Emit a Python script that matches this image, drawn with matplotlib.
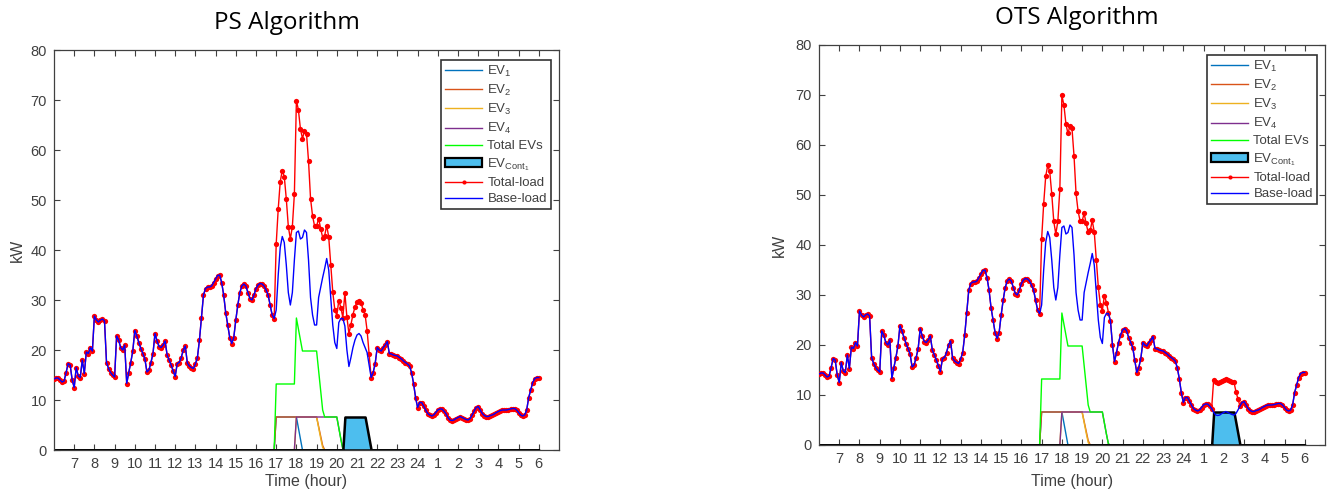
import numpy as np
import matplotlib
matplotlib.use('Agg')
import matplotlib.pyplot as plt
from matplotlib.patches import Patch
from matplotlib.lines import Line2D

plt.rcParams['font.family'] = ['Liberation Sans', 'DejaVu Sans']
plt.rcParams['mathtext.default'] = 'regular'

# time grid : 6h -> 30h (6h next day), one sample every 0.1 h
hours = np.round(np.arange(6.0, 30.05, 0.1), 1)

# base load (kW), one row per hour
base_kw = [
    14.2, 14.4, 14.4, 14.0, 13.6, 13.8, 15.5, 17.3, 17.0, 14.0,   # 6
    12.5, 16.5, 14.8, 14.5, 18.0, 15.3, 19.6, 19.3, 20.5, 19.8,   # 7
    26.8, 26.0, 25.6, 26.0, 26.2, 25.8, 17.5, 16.3, 15.5, 15.0,   # 8
    14.6, 22.8, 22.0, 20.5, 20.0, 21.0, 13.3, 15.5, 17.5, 19.8,   # 9
    23.9, 22.8, 21.5, 20.3, 19.3, 18.2, 15.6, 16.0, 17.5, 19.3,   # 10
    23.3, 21.8, 20.7, 20.5, 21.0, 21.8, 19.0, 18.0, 17.0, 15.8,   # 11
    14.7, 17.3, 17.5, 18.5, 20.0, 20.8, 17.4, 16.8, 16.5, 16.3,   # 12
    17.2, 18.5, 22.0, 26.5, 31.0, 32.3, 32.6, 32.6, 32.8, 33.5,   # 13
    34.2, 34.9, 35.0, 33.5, 31.0, 27.5, 25.0, 22.5, 21.3, 22.5,   # 14
    26.0, 29.0, 31.5, 32.8, 33.2, 32.8, 31.5, 30.3, 30.0, 31.0,   # 15
    32.3, 33.0, 33.3, 33.2, 32.8, 32.0, 31.0, 29.0, 27.0, 26.3,   # 16
    28.0, 35.0, 40.5, 42.7, 41.5, 37.0, 31.5, 29.0, 31.5, 38.0,   # 17
    43.5, 43.8, 42.2, 42.5, 44.0, 43.5, 38.0, 30.5, 27.0, 25.0,   # 18
    25.0, 30.5, 32.5, 34.5, 36.3, 38.3, 36.0, 30.5, 25.0, 21.5,   # 19
    20.3, 25.5, 26.3, 26.3, 24.8, 20.0, 16.7, 18.5, 20.5, 22.0,   # 20
    23.0, 23.3, 22.8, 21.5, 20.5, 19.5, 17.0, 14.5, 15.5, 17.3,   # 21
    20.5, 20.0, 19.8, 20.5, 21.0, 21.7, 19.3, 19.2, 19.0, 18.9,   # 22
    18.8, 18.5, 18.2, 17.8, 17.5, 17.2, 16.8, 15.5, 13.3, 10.5,   # 23
    8.5, 9.5, 9.5, 8.8, 8.0, 7.3, 7.0, 6.8, 7.0, 7.5,             # 24
    8.0, 8.2, 8.2, 7.8, 7.3, 6.5, 6.0, 5.9, 6.0, 6.3,             # 1
    6.5, 6.7, 6.5, 6.3, 6.1, 6.0, 6.3, 7.0, 7.8, 8.5,             # 2
    8.7, 8.0, 7.3, 6.9, 6.7, 6.7, 6.9, 7.0, 7.2, 7.5,             # 3
    7.7, 7.9, 8.0, 8.0, 8.0, 8.1, 8.2, 8.3, 8.3, 8.0,             # 4
    7.5, 7.0, 6.8, 7.0, 8.0, 10.5, 12.0, 13.5, 14.3, 14.5,        # 5
    14.5,                                                         # 6
]

# EV charging profiles: start hour + power every 0.1 h (kW)
ev1_start = 17.0
ev1_kw = [6.6, 6.6, 6.6, 6.6, 6.6, 6.6, 6.6, 6.6, 6.6, 6.6, 6.6, 4.4, 2.2]
ev2_start = 17.0
ev2_kw = [6.6, 6.6, 6.6, 6.6, 6.6, 6.6, 6.6, 6.6, 6.6, 6.6, 6.6,
          6.6, 6.6, 6.6, 6.6, 6.6, 6.6, 6.6, 6.6, 6.6, 6.6, 4.7, 2.8, 0.9]
ev3_start = 18.0
ev3_kw = [6.6, 6.6, 6.6, 6.6, 6.6, 6.6, 6.6, 6.6, 6.6, 6.6, 6.6, 4.5, 2.4, 0.5]
ev4_start = 18.0
ev4_kw = [6.6, 6.6, 6.6, 6.6, 6.6, 6.6, 6.6, 6.6, 6.6, 6.6, 6.6,
          6.6, 6.6, 6.6, 6.6, 6.6, 6.6, 6.6, 6.6, 6.6, 6.6, 4.4, 2.2, 0.2]

# controllable EV, scheduled by each algorithm
ps_cont_start = 20.4
ps_cont_kw = [6.6, 6.6, 6.6, 6.6, 6.6, 6.6, 6.6, 6.6, 6.6, 6.6, 6.6, 4.4, 2.2]
ots_cont_start = 25.5
ots_cont_kw = [6.6, 6.6, 6.6, 6.6, 6.6, 6.6, 6.6, 6.6, 6.6, 6.6, 6.6, 4.4, 2.2]

hour_ticks = list(range(7, 31))
hour_labels = [str(h) for h in range(7, 25)] + [str(h) for h in range(1, 7)]

ev_colors = ['#0072BD', '#D95319', '#EDB120', '#7E2F8E']
axis_gray = '#404040'


def profile(start, kw):
    p = np.zeros(len(hours))
    i = int(round((start - 6.0) * 10))
    p[i:i + len(kw)] = kw
    return p


base = np.array(base_kw)
evs = [profile(ev1_start, ev1_kw), profile(ev2_start, ev2_kw),
       profile(ev3_start, ev3_kw), profile(ev4_start, ev4_kw)]
total_evs = evs[0] + evs[1] + evs[2] + evs[3]


def draw(ax, cont):
    for ev, c in zip(evs, ev_colors):
        ax.plot(hours, ev, color=c, lw=1, zorder=2)
    ax.plot(hours, total_evs, color='#00FF00', lw=1, zorder=2)
    ax.fill_between(hours, 0, cont, facecolor='#4DBEEE', edgecolor='black',
                    lw=1.8, zorder=2.5)
    total = base + total_evs + cont
    ax.plot(hours, total, color='red', lw=1, marker='o', ms=3.8, mec='red',
            mfc='red', mew=0, zorder=3)
    ax.plot(hours, base, color='blue', lw=1, zorder=3)

    ax.set_xlim(6, 31)
    ax.set_ylim(0, 80)
    ax.set_xticks(hour_ticks)
    ax.set_xticklabels(hour_labels)
    ax.set_yticks(range(0, 81, 10))
    ax.tick_params(direction='in', top=True, right=True, length=4, width=0.8,
                   colors=axis_gray, labelsize=10.5, pad=5)
    for s in ax.spines.values():
        s.set_color(axis_gray)
        s.set_linewidth(0.9)
    ax.set_xlabel('Time (hour)', fontsize=11.5, color=axis_gray)
    ax.set_ylabel('kW', fontsize=11.5, color=axis_gray)

    handles = [Line2D([], [], color=c, lw=1) for c in ev_colors]
    handles += [Line2D([], [], color='#00FF00', lw=1),
                Patch(facecolor='#4DBEEE', edgecolor='black', lw=1.6),
                Line2D([], [], color='red', lw=1, marker='o', ms=3, mew=0),
                Line2D([], [], color='blue', lw=1)]
    labels = ['EV$_1$', 'EV$_2$', 'EV$_3$', 'EV$_4$', 'Total EVs',
              'EV$_{Cont_1}$', 'Total-load', 'Base-load']
    leg = ax.legend(handles, labels, loc='upper right', bbox_to_anchor=(0.984, 0.975),
                    borderaxespad=0, fontsize=9.5, labelspacing=0.3, handlelength=2.8,
                    handletextpad=0.4, borderpad=0.3, fancybox=False, framealpha=1)
    leg.get_frame().set_edgecolor('#333333')
    leg.get_frame().set_linewidth(1.2)
    for t in leg.get_texts():
        t.set_color(axis_gray)


fig = plt.figure(figsize=(13.27, 4.91), dpi=100)
W, H = 1327, 491
ax1 = fig.add_axes([54 / W, 1 - 450 / H, 505 / W, 400 / H])
ax2 = fig.add_axes([819 / W, 1 - 445 / H, 506 / W, 400 / H])
draw(ax1, profile(ps_cont_start, ps_cont_kw))
draw(ax2, profile(ots_cont_start, ots_cont_kw))

ax1.xaxis.set_label_coords(0.5, -0.06)
ax1.yaxis.set_label_coords(-0.058, 0.5)
ax2.xaxis.set_label_coords(0.5, -0.073)
ax2.yaxis.set_label_coords(-0.064, 0.5)

fig.text(287 / W, 1 - 23 / H, 'PS Algorithm', ha='center', va='center',
         fontsize=17.5, family='Open Sans')
fig.text(1077 / W, 1 - 18 / H, 'OTS Algorithm', ha='center', va='center',
         fontsize=17.5, family='Open Sans')

fig.savefig('out.png', dpi=100)
